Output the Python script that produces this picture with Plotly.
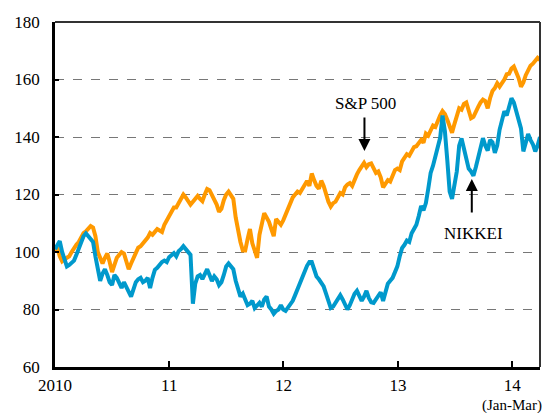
import pandas as pd
import plotly.graph_objects as go

# Weekly observation dates, Jan 2010 to end of Mar 2014 (index, Jan 2010 = 100)
dates = pd.date_range("2010-01-01", "2014-03-31", periods=205)

sp500 = [
    100.3, 101.5, 98.5, 96.8, 97.5, 98.0, 98.5, 100.0, 101.5, 102.5,
    103.5, 105.0, 106.6, 107.2, 108.0, 109.0, 108.5, 105.5, 100.0, 97.5,
    96.0, 98.0, 99.5, 96.5, 93.0, 95.5, 98.0, 99.0, 100.0, 99.5,
    97.0, 94.0, 96.0, 98.0, 100.0, 101.5, 102.0, 103.0, 104.5, 105.0,
    106.6, 106.0, 107.0, 108.0, 107.5, 107.0, 109.5, 111.0, 112.5, 114.0,
    115.5, 115.5, 117.0, 119.0, 120.0, 119.0, 118.0, 116.5, 117.5, 118.5,
    119.5, 118.5, 117.7, 120.0, 121.9, 121.5, 120.0, 118.0, 116.5, 114.0,
    115.0, 118.0, 120.0, 121.0, 120.0, 118.5, 112.0, 107.0, 103.5, 100.5,
    100.5, 104.5, 108.0, 103.0, 100.0, 98.0, 106.0, 110.0, 113.5, 112.0,
    110.5, 108.0, 105.5, 111.5, 110.5, 109.5, 111.0, 113.0, 115.5, 117.0,
    119.0, 120.0, 121.0, 120.5, 122.0, 123.5, 124.7, 123.0, 127.3, 125.0,
    123.0, 122.0, 124.8, 123.0, 120.0, 117.5, 115.8, 117.0, 117.5, 119.0,
    120.5, 120.0, 122.5, 123.5, 124.0, 123.0, 125.3, 127.0, 128.5, 129.5,
    131.0, 129.5, 130.5, 130.8, 129.3, 127.5, 128.0, 126.0, 122.5, 124.0,
    125.0, 124.5, 127.0, 128.5, 129.0, 128.5, 131.5, 133.0, 134.0, 133.5,
    135.3, 136.5, 136.8, 138.0, 139.0, 138.0, 141.2, 140.5, 142.5, 144.0,
    143.5, 146.0, 147.5, 149.0, 148.0, 146.0, 143.5, 141.5, 144.5, 147.5,
    150.0, 149.5, 151.5, 152.0, 149.0, 146.5, 147.0, 149.0, 150.5, 152.0,
    153.0, 152.5, 150.0, 153.5, 156.0, 157.0, 158.7, 157.5, 158.5, 160.0,
    161.8, 162.0, 163.8, 164.5, 162.5, 160.5, 157.5, 159.0, 161.5, 163.5,
    164.8, 165.5, 166.5, 167.5, 166.8,
]

nikkei = [
    101.0, 102.5, 103.8, 100.0, 97.5, 95.0, 95.5, 96.5, 97.0, 99.0,
    101.0, 103.5, 105.5, 106.5, 105.6, 104.5, 103.5, 98.5, 93.5, 90.0,
    92.5, 94.0, 92.0, 89.5, 88.5, 92.0, 91.0, 89.0, 87.5, 89.5,
    88.0, 86.0, 84.5, 87.0, 89.5, 90.5, 91.0, 89.5, 90.0, 91.0,
    87.5, 91.0, 93.8, 94.5, 95.6, 96.5, 97.0, 96.5, 98.2, 99.0,
    99.6, 98.5, 100.3, 101.0, 102.0, 101.0, 100.0, 99.0, 82.0, 89.0,
    91.5, 92.0, 90.6, 92.5, 94.0, 92.0, 89.9, 91.5, 90.5, 88.5,
    89.5, 92.0, 95.0, 96.0, 95.0, 94.0, 90.0, 86.5, 84.5, 85.5,
    83.0, 81.5, 82.0, 83.0, 80.5, 81.5, 82.3, 81.0, 83.5, 84.5,
    81.0, 80.0, 78.5, 79.5, 80.0, 81.5, 80.0, 79.5, 80.5, 81.5,
    83.0, 85.0, 87.0, 89.0, 91.5, 93.5, 95.2, 96.5, 96.5, 94.0,
    91.5, 90.5, 89.5, 88.0, 85.5, 83.0, 80.5, 81.0, 82.5, 84.0,
    85.0, 83.5, 82.0, 80.0, 81.5, 83.5, 85.5, 86.5, 85.0, 83.0,
    84.5, 86.5, 84.0, 82.5, 82.3, 83.5, 84.8, 86.0, 83.0, 85.5,
    89.0, 90.0, 91.0, 93.0, 95.0, 98.5, 101.4, 102.5, 104.0, 103.5,
    106.5, 108.0, 109.5, 112.5, 116.0, 114.5, 117.0, 122.0, 127.5, 130.0,
    133.0, 136.5, 139.7, 147.5, 142.0, 132.0, 121.0, 118.5, 124.0, 128.0,
    137.0, 139.5, 136.0, 132.0, 129.0, 128.0, 126.5, 129.5, 132.7, 136.0,
    139.6, 137.0, 135.3, 139.0, 138.2, 134.5, 137.0, 142.5, 146.5, 149.0,
    147.5, 150.0, 153.5, 152.0, 148.5, 146.0, 143.0, 135.0, 138.0, 141.0,
    139.0, 137.5, 135.0, 137.0, 140.0,
]

year_ticks = ["2010-01-01", "2011-01-01", "2012-01-01", "2013-01-01", "2014-01-01"]
year_labels = ["2010", "11", "12", "13", "14"]
y_ticks = [60, 80, 100, 120, 140, 160, 180]

FONT = "Liberation Serif"
FS = 17

fig = go.Figure()
fig.add_trace(go.Scatter(x=dates, y=sp500, mode="lines", name="S&P 500",
                         line=dict(color="#FF9900", width=4)))
fig.add_trace(go.Scatter(x=dates, y=nikkei, mode="lines", name="NIKKEI",
                         line=dict(color="#0099CC", width=4)))

fig.update_layout(
    width=548, height=413,
    margin=dict(l=55, r=8, t=22, b=46),
    paper_bgcolor="white", plot_bgcolor="white",
    showlegend=False,
    font=dict(family=FONT, size=FS, color="black"),
)
fig.update_xaxes(
    type="date", range=["2010-01-01", "2014-03-31"],
    tickvals=year_ticks, ticktext=year_labels,
    ticks="inside", ticklen=6, tickwidth=1.5, tickcolor="black",
    showline=True, linecolor="black", linewidth=2.5,
    showgrid=False, zeroline=False,
    tickfont=dict(family=FONT, size=FS),
    ticklabelstandoff=1,
)
fig.update_yaxes(
    range=[60, 180], tickvals=y_ticks,
    ticks="inside", ticklen=4, tickwidth=1.5, tickcolor="black",
    showline=True, linecolor="black", linewidth=2.5,
    showgrid=True, gridcolor="#777777", gridwidth=1, griddash="dash",
    zeroline=False,
    tickfont=dict(family=FONT, size=FS),
    ticklabelstandoff=9,
)

# top and right border
fig.add_shape(type="line", xref="paper", yref="paper", x0=0, x1=1, y0=1, y1=1,
              line=dict(color="#333333", width=2))
fig.add_shape(type="line", xref="paper", yref="paper", x0=1, x1=1, y0=0, y1=1,
              line=dict(color="#333333", width=2))

# labels and arrows
fig.add_annotation(x="2012-09-19", y=151.5, text="S&P 500", showarrow=False,
                   font=dict(family=FONT, size=FS))
fig.add_annotation(x="2012-09-16", y=135.1, text="", showarrow=True,
                   axref="pixel", ayref="pixel", ax=0, ay=-35,
                   arrowhead=2, arrowsize=1.2, arrowwidth=2, arrowcolor="black")
fig.add_annotation(x="2013-09-01", y=106.6, text="NIKKEI", showarrow=False,
                   font=dict(family=FONT, size=FS))
fig.add_annotation(x="2013-08-25", y=125.4, text="", showarrow=True,
                   axref="pixel", ayref="pixel", ax=0, ay=35,
                   arrowhead=2, arrowsize=1.2, arrowwidth=2, arrowcolor="black")
fig.add_annotation(x="2014-01-01", xref="x", y=-0.08, yref="paper",
                   text="(Jan-Mar)", showarrow=False, yanchor="top",
                   font=dict(family=FONT, size=15))

fig.write_html("out.html", config={"displayModeBar": False},
               post_script="document.body.style.margin='0';")
